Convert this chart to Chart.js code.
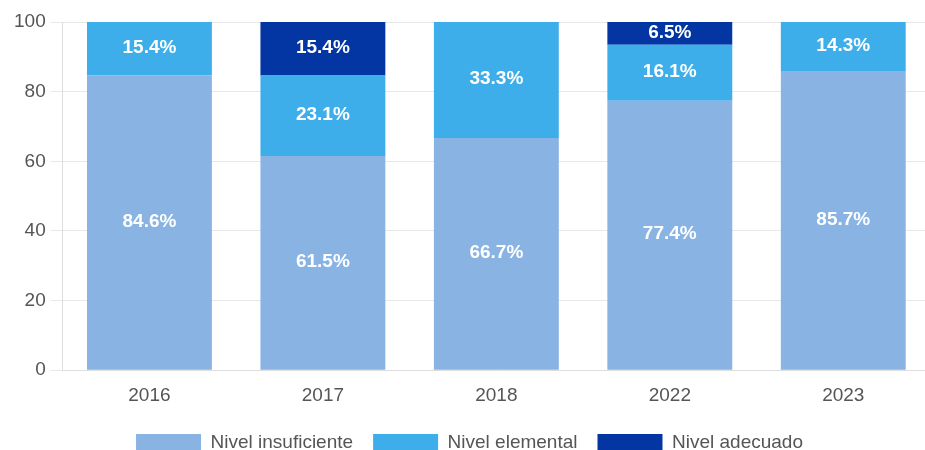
<!DOCTYPE html>
<html>
<head>
<meta charset="utf-8">
<script src="https://cdn.jsdelivr.net/npm/chart.js@4/dist/chart.umd.min.js"></script>
<style>
  html, body { margin: 0; padding: 0; background: #fff; overflow: hidden; }
  #wrap { width: 930px; height: 450px; }
</style>
</head>
<body>
<div id="wrap"><canvas id="chart"></canvas></div>
<script>
const years = ["2016", "2017", "2018", "2022", "2023"];
const insuficiente = [84.6, 61.5, 66.7, 77.4, 85.7];
const elemental = [15.4, 23.1, 33.3, 16.1, 14.3];
const adecuado = [0, 15.4, 0, 6.5, 0];

const FONT = "Arial, 'Liberation Sans', sans-serif";

// white labels in the middle of each segment
const segmentLabels = {
    id: "segmentLabels",
    afterDatasetsDraw(chart) {
        const ctx = chart.ctx;
        ctx.save();
        ctx.fillStyle = "#fff";
        ctx.font = "bold 19px " + FONT;
        ctx.textAlign = "center";
        ctx.textBaseline = "middle";
        chart.data.datasets.forEach((ds, i) => {
            chart.getDatasetMeta(i).data.forEach((bar, j) => {
                const v = ds.data[j];
                if (!v) return;
                const mid = (bar.y + bar.base) / 2;
                ctx.fillText(v.toFixed(1) + "%", bar.x, mid - 1);
            });
        });
        ctx.restore();
    }
};

new Chart(document.getElementById("chart"), {
    type: "bar",
    data: {
        labels: years,
        datasets: [
            { label: "Nivel insuficiente", data: insuficiente, backgroundColor: "#88b3e2" },
            { label: "Nivel elemental", data: elemental, backgroundColor: "#3daeea" },
            { label: "Nivel adecuado", data: adecuado, backgroundColor: "#0336a3" }
        ]
    },
    options: {
        responsive: true,
        maintainAspectRatio: false,
        animation: false,
        layout: { padding: { top: 22, right: 0, left: 9, bottom: -12 } },
        datasets: { bar: { categoryPercentage: 1, barPercentage: 0.72 } },
        plugins: {
            tooltip: { enabled: false },
            legend: {
                position: "bottom",
                labels: {
                    boxWidth: 65,
                    boxHeight: 17,
                    color: "#555",
                    padding: 20,
                    font: { size: 19, family: FONT }
                }
            }
        },
        scales: {
            x: {
                stacked: true,
                grid: { display: false },
                border: { color: "#ddd" },
                ticks: { color: "#555", padding: 6, font: { size: 19, family: FONT } }
            },
            y: {
                stacked: true,
                min: 0,
                max: 100,
                ticks: { stepSize: 20, color: "#555", padding: 5, font: { size: 19, family: FONT } },
                grid: { color: "#e8e8e8", tickLength: 12 },
                border: { color: "#ddd" }
            }
        }
    },
    plugins: [segmentLabels]
});
</script>
</body>
</html>
